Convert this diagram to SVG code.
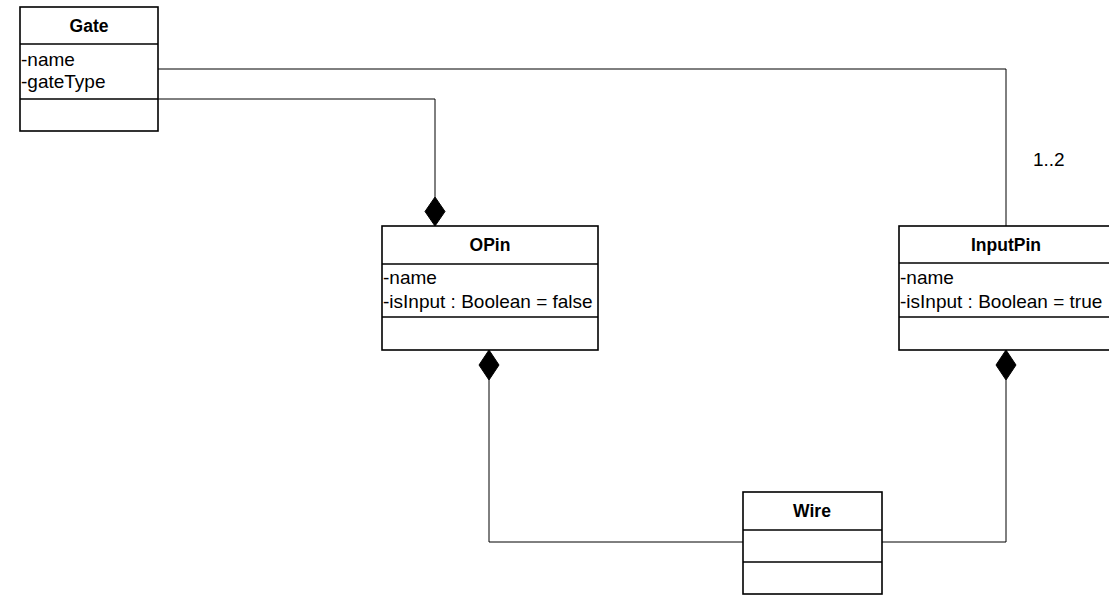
<svg xmlns="http://www.w3.org/2000/svg" width="1109" height="596" viewBox="0 0 1109 596">
<style>
.box{fill:#fff;stroke:#000;stroke-width:1.6}
.div{stroke:#000;stroke-width:1.6}
.t{font-family:"Liberation Sans",Arial,sans-serif;font-size:19px;fill:#000}
.h{font-weight:bold;text-anchor:middle;font-size:17.5px}
.conn{fill:none;stroke:#000;stroke-width:1}
.dia{fill:#000;stroke:#000;stroke-width:1}
</style>
<rect width="1109" height="596" fill="#fff"/>
<g id="connectors">
<polyline class="conn" points="158,69 1006,69 1006,226"/>
<text class="t" x="1033" y="166" font-size="16">1..2</text>
<polyline class="conn" points="158,99 435,99 435,197"/>
<polygon class="dia" points="435,197 445,211.5 435,226 425,211.5"/>
<polygon class="dia" points="489,350 499,365 489,380 479,365"/>
<polyline class="conn" points="489,380 489,542 743,542"/>
<polygon class="dia" points="1006,350 1016,365 1006,380 996,365"/>
<polyline class="conn" points="1006,380 1006,542 882,542"/>
</g>
<g id="gate">
<rect class="box" x="20" y="7" width="138" height="124"/>
<line class="div" x1="20" y1="44" x2="158" y2="44"/>
<line class="div" x1="20" y1="99" x2="158" y2="99"/>
<text class="t h" x="89" y="32">Gate</text>
<text class="t" x="21" y="66">-name</text>
<text class="t" x="21" y="88">-gateType</text>
</g>
<g id="opin">
<rect class="box" x="382" y="226" width="216" height="124"/>
<line class="div" x1="382" y1="264" x2="598" y2="264"/>
<line class="div" x1="382" y1="317" x2="598" y2="317"/>
<text class="t h" x="490" y="251">OPin</text>
<text class="t" x="383" y="284">-name</text>
<text class="t" x="383" y="308">-isInput : Boolean = false</text>
</g>
<g id="inputpin">
<rect class="box" x="899" y="226" width="216" height="124"/>
<line class="div" x1="899" y1="263" x2="1115" y2="263"/>
<line class="div" x1="899" y1="317" x2="1115" y2="317"/>
<text class="t h" x="1006" y="251">InputPin</text>
<text class="t" x="900" y="284">-name</text>
<text class="t" x="900" y="308">-isInput : Boolean = true</text>
</g>
<g id="wire">
<rect class="box" x="743" y="492" width="139" height="102"/>
<line class="div" x1="743" y1="530" x2="882" y2="530"/>
<line class="div" x1="743" y1="562" x2="882" y2="562"/>
<text class="t h" x="812" y="517">Wire</text>
</g>
</svg>
